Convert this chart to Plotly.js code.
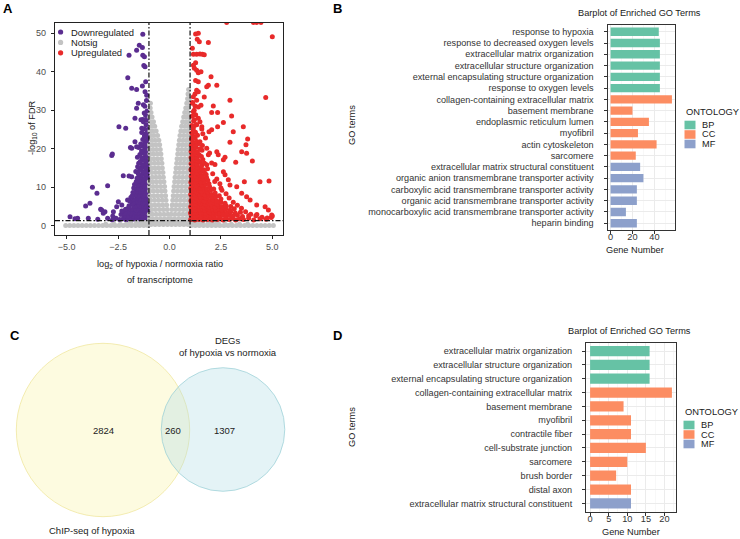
<!DOCTYPE html>
<html><head><meta charset="utf-8">
<script src="https://cdn.plot.ly/plotly-3.0.1.min.js"></script>
<style>html,body{margin:0;padding:0;background:#fff}#chart{width:740px;height:539px}</style>
</head><body><div id="chart"></div>
<script>
// ---------------- DATA ----------------
// Panel A: volcano plot points [log2 ratio, -log10 FDR]
const downregulated = [
[-1.04,1.6],[-1.13,1.9],[-1.22,1.5],[-1.31,1.8],[-1.4,1.6],[-1.5,2.0],[-1.61,1.5],[-1.72,1.8],[-1.84,1.6],[-1.97,1.9],[-2.1,1.5],[-2.25,1.8],[-2.42,1.6],[-2.6,1.9],[-2.78,1.5],
[-1.07,2.6],[-1.17,2.4],[-1.27,2.7],[-1.37,2.5],[-1.47,2.8],[-1.58,2.4],[-1.69,2.7],[-1.8,2.5],[-1.93,2.8],[-2.05,2.4],[-2.2,2.6],[-2.36,2.9],
[-1.03,3.4],[-1.12,3.2],[-1.22,3.5],[-1.33,3.3],[-1.44,3.6],[-1.55,3.2],[-1.66,3.4],[-1.78,3.7],[-1.9,3.3],[-2.03,3.5],[-2.17,3.2],[-2.32,3.8],
[-1.08,4.2],[-1.18,4.4],[-1.28,4.1],[-1.39,4.3],[-1.5,4.5],[-1.61,4.1],[-1.73,4.4],[-1.86,4.2],[-2.0,4.6],[-2.14,4.3],
[-1.04,5.1],[-1.14,5.3],[-1.24,5.0],[-1.35,5.4],[-1.46,5.1],[-1.58,5.3],[-1.7,5.0],[-1.83,5.5],[-1.97,5.2],
[-1.09,6.0],[-1.19,6.2],[-1.3,5.9],[-1.41,6.3],[-1.53,6.0],[-1.65,6.2],[-1.79,5.9],[-1.93,6.4],
[-1.03,6.9],[-1.13,7.1],[-1.24,6.8],[-1.35,7.2],[-1.47,6.9],[-1.6,7.1],[-1.74,6.8],[-1.88,7.3],
[-1.08,7.8],[-1.18,8.0],[-1.29,7.7],[-1.41,8.1],[-1.53,7.8],[-1.67,8.0],[-1.82,7.7],
[-1.04,8.7],[-1.14,8.9],[-1.25,8.6],[-1.37,9.0],[-1.49,8.7],[-1.63,8.9],[-1.78,8.6],
[-1.09,9.6],[-1.2,9.8],[-1.32,9.5],[-1.44,9.9],[-1.58,9.6],[-1.74,9.8],
[-1.04,10.5],[-1.15,10.7],[-1.27,10.4],[-1.4,10.8],[-1.54,10.5],[-1.7,10.7],
[-1.09,11.4],[-1.2,11.6],[-1.33,11.3],[-1.47,11.7],[-1.62,11.4],
[-1.04,12.3],[-1.15,12.5],[-1.28,12.2],[-1.42,12.6],[-1.58,12.3],
[-1.1,13.2],[-1.22,13.4],[-1.36,13.1],[-1.52,13.5],
[-1.04,14.1],[-1.16,14.3],[-1.3,14.0],[-1.46,14.4],[-1.64,14.1],
[-1.1,15.0],[-1.23,15.2],[-1.38,14.9],[-1.55,15.3],
[-1.05,15.9],[-1.17,16.1],[-1.32,15.8],[-1.5,16.2],
[-1.11,16.8],[-1.25,17.0],[-1.42,16.7],
[-1.05,17.7],[-1.18,17.9],[-1.34,17.6],[-1.56,17.8],
[-1.11,18.6],[-1.26,18.8],[-1.44,18.5],
[-1.05,19.5],[-1.19,19.7],[-1.36,19.4],
[-1.12,20.4],[-1.28,20.6],[-1.5,20.3],
[-1.06,21.3],[-1.21,21.5],[-1.4,21.2],
[-1.12,22.2],[-1.3,22.4],[-1.06,23.1],[-1.22,23.3],[-1.13,24.0],[-1.35,24.2],[-1.07,25.0],[-1.24,25.2],
[-1.14,26.2],[-1.08,27.4],[-1.3,27.6],[-1.16,28.6],[-1.09,29.8],[-1.2,31.0],[-1.12,32.5],
[-1.30,49.7],[-1.47,46.9],[-1.32,46.3],[-1.60,45.6],[-1.97,44.3],[-1.30,44.3],[-1.22,43.9],[-1.19,41.3],[-1.25,41.6],
[-2.03,38.4],[-1.16,37.4],[-1.84,35.7],[-1.60,35.4],[-1.32,36.3],[-1.19,34.8],[-1.11,33.9],[-1.52,31.8],[-1.27,31.4],
[-1.60,30.5],[-1.23,29.3],[-1.68,27.9],[-1.39,27.5],[-1.27,27.0],[-1.11,27.5],[-2.46,25.7],[-2.13,25.3],[-1.35,25.3],
[-1.68,21.8],[-1.60,20.5],[-1.84,20.1],[-1.9,20.3],[-2.81,18.2],[-2.78,18.6],[-2.25,13.0],[-1.84,12.7],[-1.97,12.9],
[-3.75,10.0],[-3.01,10.4],[-3.53,8.4],[-3.87,5.8],[-4.08,5.1],[-3.30,4.1],[-3.14,3.6],[-3.22,3.2],
[-2.49,6.2],[-2.32,5.4],[-2.57,4.9],[-2.73,3.6],[-2.04,6.7],[-4.84,2.3],[-4.6,1.8],[-4.47,1.9],[-3.95,1.9],[-3.49,1.7],[-3.01,1.9],[-2.76,2.5],[-3.35,4.3]
];
const notsig = [
[-5.05,0.05],[-4.85,0.05],[-4.65,0.05],[-4.45,0.05],[-4.25,0.05],[-4.05,0.05],[-3.85,0.05],[-3.65,0.05],[-3.45,0.05],[-3.25,0.05],[-3.05,0.05],
[-2.85,0.05],[-2.65,0.05],[-2.45,0.05],[-2.25,0.05],[-2.05,0.05],[-1.85,0.05],[-1.65,0.05],[-1.45,0.05],[-1.25,0.05],[-1.05,0.05],
[1.05,0.05],[1.25,0.05],[1.45,0.05],[1.65,0.05],[1.85,0.05],[2.05,0.05],[2.25,0.05],[2.45,0.05],[2.65,0.05],[2.85,0.05],[3.05,0.05],
[3.25,0.05],[3.45,0.05],[3.65,0.05],[3.85,0.05],[4.05,0.05],[4.25,0.05],[4.45,0.05],[4.65,0.05],[4.85,0.05],[5.05,0.05],
[-3.1,0.4],[-2.7,0.4],[-2.4,0.4],[-2.1,0.4],[-1.85,0.4],[-1.6,0.4],[-1.4,0.4],[-1.2,0.4],[-1.05,0.4],
[1.05,0.4],[1.2,0.4],[1.4,0.4],[1.6,0.4],[1.85,0.4],[2.1,0.4],[2.4,0.4],[2.7,0.4],[3.0,0.4],[3.4,0.4],[3.8,0.4],
[-1.9,0.8],[-1.6,0.8],[-1.35,0.8],[-1.15,0.8],[1.15,0.8],[1.35,0.8],[1.6,0.8],[1.9,0.8],[2.3,0.8],
[-0.9,0.3],[-0.7,0.3],[-0.5,0.3],[-0.3,0.3],[-0.1,0.3],[0.1,0.3],[0.3,0.3],[0.5,0.3],[0.7,0.3],[0.9,0.3],
[-0.02,0.9],[-0.2,0.9],[-0.4,0.9],[-0.6,0.9],[-0.8,0.9],[-0.98,0.9],[0.02,0.9],[0.2,0.9],[0.4,0.9],[0.6,0.9],[0.8,0.9],[0.98,0.9],
[-0.05,1.8],[-0.24,1.8],[-0.44,1.8],[-0.63,1.8],[-0.82,1.8],[-0.97,1.8],
[-0.08,3.0],[-0.27,3.0],[-0.46,3.0],[-0.65,3.0],[-0.84,3.0],[-0.98,3.0],
[-0.11,4.2],[-0.3,4.2],[-0.49,4.2],[-0.68,4.2],[-0.86,4.2],
[-0.14,5.4],[-0.33,5.4],[-0.52,5.4],[-0.71,5.4],[-0.9,5.4],
[-0.17,6.6],[-0.35,6.6],[-0.54,6.6],[-0.73,6.6],[-0.92,6.6],
[-0.19,7.8],[-0.38,7.8],[-0.57,7.8],[-0.76,7.8],[-0.95,7.8],
[-0.22,9.0],[-0.4,9.0],[-0.59,9.0],[-0.78,9.0],[-0.96,9.0],
[-0.24,10.2],[-0.43,10.2],[-0.62,10.2],[-0.8,10.2],[-0.97,10.2],
[-0.27,11.4],[-0.45,11.4],[-0.64,11.4],[-0.82,11.4],[-0.98,11.4],
[-0.3,12.6],[-0.48,12.6],[-0.66,12.6],[-0.84,12.6],
[-0.32,13.8],[-0.5,13.8],[-0.68,13.8],[-0.86,13.8],
[-0.35,15.0],[-0.53,15.0],[-0.71,15.0],[-0.89,15.0],
[-0.37,16.2],[-0.55,16.2],[-0.73,16.2],[-0.91,16.2],
[-0.4,17.4],[-0.58,17.4],[-0.76,17.4],[-0.93,17.4],
[-0.42,18.6],[-0.6,18.6],[-0.78,18.6],[-0.95,18.6],
[-0.45,19.8],[-0.63,19.8],[-0.8,19.8],[-0.96,19.8],
[-0.48,21.0],[-0.66,21.0],[-0.83,21.0],[-0.97,21.0],
[-0.52,22.2],[-0.7,22.2],[-0.86,22.2],
[-0.58,23.4],[-0.76,23.4],[-0.9,23.4],
[-0.65,24.6],[-0.82,24.6],[-0.95,24.6],
[-0.72,25.8],[-0.88,25.8],[-0.78,27.0],[-0.92,27.0],[-0.85,28.2],[-0.96,28.2],[-0.9,29.4],[-0.94,30.6],[-0.93,31.8],
[0.05,1.8],[0.24,1.8],[0.44,1.8],[0.63,1.8],[0.82,1.8],[0.97,1.8],
[0.08,3.0],[0.27,3.0],[0.46,3.0],[0.65,3.0],[0.84,3.0],[0.98,3.0],
[0.11,4.2],[0.3,4.2],[0.49,4.2],[0.68,4.2],[0.86,4.2],
[0.13,5.4],[0.32,5.4],[0.51,5.4],[0.7,5.4],[0.89,5.4],
[0.16,6.6],[0.34,6.6],[0.53,6.6],[0.72,6.6],[0.91,6.6],
[0.18,7.8],[0.37,7.8],[0.56,7.8],[0.75,7.8],[0.94,7.8],
[0.2,9.0],[0.39,9.0],[0.58,9.0],[0.77,9.0],[0.95,9.0],
[0.22,10.2],[0.41,10.2],[0.6,10.2],[0.79,10.2],[0.97,10.2],
[0.25,11.4],[0.43,11.4],[0.62,11.4],[0.81,11.4],[0.98,11.4],
[0.27,12.6],[0.46,12.6],[0.64,12.6],[0.83,12.6],
[0.3,13.8],[0.48,13.8],[0.66,13.8],[0.85,13.8],
[0.32,15.0],[0.5,15.0],[0.68,15.0],[0.87,15.0],
[0.35,16.2],[0.53,16.2],[0.71,16.2],[0.89,16.2],
[0.37,17.4],[0.55,17.4],[0.73,17.4],[0.91,17.4],
[0.4,18.6],[0.58,18.6],[0.76,18.6],[0.93,18.6],
[0.42,19.8],[0.6,19.8],[0.78,19.8],[0.95,19.8],
[0.45,21.0],[0.63,21.0],[0.8,21.0],[0.96,21.0],
[0.48,22.2],[0.66,22.2],[0.83,22.2],[0.97,22.2],
[0.51,23.4],[0.69,23.4],[0.86,23.4],
[0.55,24.6],[0.72,24.6],[0.88,24.6],
[0.59,25.8],[0.76,25.8],[0.91,25.8],
[0.64,27.0],[0.8,27.0],[0.94,27.0],
[0.69,28.2],[0.84,28.2],[0.96,28.2],
[0.74,29.4],[0.88,29.4],[0.79,30.6],[0.91,30.6],[0.84,31.8],[0.94,31.8],[0.88,33.0],[0.96,33.0],[0.9,34.2],[0.93,35.4]
];
const upregulated = [
[1.03,1.6],[1.13,1.9],[1.23,1.5],[1.33,1.8],[1.43,1.6],[1.53,2.0],[1.63,1.5],[1.74,1.8],[1.85,1.6],[1.96,1.9],[2.08,1.5],[2.2,1.8],[2.33,1.6],
[2.46,1.9],[2.6,1.5],[2.74,1.8],[2.9,1.6],[3.06,1.9],[3.22,1.5],[3.4,1.8],[3.6,1.6],[3.85,1.9],[4.1,1.5],[4.4,1.8],[4.7,1.7],[4.95,2.1],
[1.06,2.5],[1.16,2.7],[1.26,2.4],[1.36,2.6],[1.46,2.8],[1.57,2.4],[1.68,2.7],[1.79,2.5],[1.91,2.8],[2.03,2.4],[2.16,2.6],[2.29,2.9],
[2.43,2.5],[2.58,2.7],[2.73,2.4],[2.9,2.8],[3.08,2.5],[3.3,2.7],[3.55,2.4],[3.85,2.6],[4.25,2.9],
[1.02,3.3],[1.12,3.5],[1.22,3.2],[1.32,3.4],[1.43,3.6],[1.54,3.2],[1.65,3.5],[1.77,3.3],[1.89,3.6],[2.02,3.2],[2.15,3.4],[2.29,3.7],
[2.44,3.3],[2.6,3.5],[2.78,3.2],[2.98,3.6],[3.2,3.3],[3.45,3.5],
[1.07,4.1],[1.17,4.3],[1.27,4.0],[1.38,4.4],[1.49,4.1],[1.6,4.3],[1.72,4.0],[1.84,4.4],[1.97,4.1],[2.1,4.3],[2.24,4.0],[2.39,4.4],
[2.55,4.1],[2.73,4.3],[2.93,4.0],[3.15,4.4],
[1.03,4.9],[1.13,5.1],[1.23,4.8],[1.34,5.2],[1.45,4.9],[1.56,5.1],[1.68,4.8],[1.8,5.2],[1.93,4.9],[2.07,5.1],[2.22,4.8],[2.38,5.2],
[2.56,4.9],[2.76,5.1],[2.98,5.0],
[1.08,5.7],[1.18,5.9],[1.28,5.6],[1.39,6.0],[1.5,5.7],[1.62,5.9],[1.74,5.6],[1.87,6.0],[2.01,5.7],[2.16,5.9],[2.32,5.6],[2.5,6.0],[2.7,5.8],
[1.04,6.5],[1.14,6.7],[1.24,6.4],[1.35,6.8],[1.46,6.5],[1.58,6.7],[1.7,6.4],[1.83,6.8],[1.97,6.5],[2.12,6.7],[2.3,6.4],[2.5,6.9],
[1.09,7.3],[1.19,7.5],[1.3,7.2],[1.41,7.6],[1.53,7.3],[1.65,7.5],[1.78,7.2],[1.92,7.6],[2.08,7.3],[2.25,7.5],[2.42,7.8],
[1.03,8.1],[1.14,8.3],[1.25,8.0],[1.36,8.4],[1.48,8.1],[1.6,8.3],[1.73,8.0],[1.88,8.4],[2.05,8.1],[2.22,8.5],
[1.08,8.9],[1.19,9.1],[1.3,8.8],[1.42,9.2],[1.55,8.9],[1.69,9.1],[1.84,8.8],[2.0,9.2],[2.15,9.5],
[1.04,9.7],[1.15,9.9],[1.26,9.6],[1.38,10.0],[1.51,9.7],[1.65,9.9],[1.8,9.6],[1.95,10.1],
[1.09,10.5],[1.2,10.7],[1.32,10.4],[1.45,10.8],[1.59,10.5],[1.75,10.7],[1.92,10.9],
[1.04,11.3],[1.15,11.5],[1.27,11.2],[1.4,11.6],[1.54,11.3],[1.7,11.5],[1.86,11.8],
[1.1,12.1],[1.21,12.3],[1.34,12.0],[1.48,12.4],[1.64,12.1],[1.8,12.5],
[1.05,12.9],[1.16,13.1],[1.29,12.8],[1.43,13.2],[1.6,12.9],[1.78,13.3],
[1.1,13.7],[1.22,13.9],[1.36,13.6],[1.52,14.0],[1.7,13.8],
[1.04,14.5],[1.16,14.7],[1.3,14.4],[1.46,14.8],[1.65,14.5],[1.85,14.8],
[1.1,15.3],[1.23,15.5],[1.38,15.2],[1.56,15.6],
[1.05,16.1],[1.17,16.3],[1.32,16.0],[1.5,16.4],[1.7,16.2],
[1.11,16.9],[1.25,17.1],[1.42,16.8],[1.62,17.2],
[1.05,17.7],[1.18,17.9],[1.34,17.6],[1.55,18.0],
[1.11,18.5],[1.26,18.7],[1.44,18.4],
[1.05,19.3],[1.19,19.5],[1.36,19.2],[1.58,19.6],
[1.12,20.1],[1.28,20.3],[1.48,20.0],
[1.06,20.9],[1.21,21.1],[1.4,21.3],[1.13,21.7],[1.32,21.9],[1.07,22.5],[1.24,22.7],[1.14,23.3],[1.36,23.5],[1.08,24.1],[1.26,24.3],
[1.15,25.0],[1.09,26.0],[1.3,26.2],[1.17,27.2],[1.1,28.4],[1.2,30.0],[1.12,32.0],
[2.78,52.8],[4.08,52.8],[4.24,52.8],[4.45,52.8],[5.0,49.1],[1.27,49.8],[1.40,50.0],[1.35,48.4],[1.45,47.8],[1.89,47.6],[1.11,46.1],
[1.16,44.5],[1.32,44.5],[1.48,44.6],[1.60,44.5],[1.69,44.4],[1.27,42.3],[1.16,41.7],[1.21,40.9],[1.32,40.4],[1.40,39.7],[1.53,40.0],
[2.02,38.7],[1.27,37.7],[1.40,37.4],[1.89,36.5],[1.81,36.1],[2.30,36.5],[1.32,35.2],[1.40,34.8],[1.24,34.2],[1.16,33.5],[1.32,32.6],
[1.69,33.4],[2.94,32.6],[4.68,33.3],[1.11,31.8],[1.24,31.1],[1.40,30.8],[1.53,31.3],[2.13,31.1],[2.05,29.4],[2.34,29.4],[3.02,28.5],
[1.16,29.6],[1.27,28.8],[1.40,27.9],[1.21,27.5],[1.48,27.0],[1.32,26.2],[1.57,25.7],[1.16,25.6],[2.62,26.8],[2.34,25.7],[3.59,25.7],
[1.57,25.1],[1.92,24.4],[2.05,24.9],[3.10,24.4],[3.80,22.5],[3.72,21.0],[3.51,19.2],[2.94,21.7],[4.03,16.8],[3.22,16.5],[2.30,19.2],
[2.37,18.4],[2.70,17.8],[2.62,17.1],[4.84,11.6],[3.64,11.4],[2.62,14.0],[2.70,13.2],[2.86,11.9],[2.94,10.6],[3.27,10.1],[3.51,8.4],
[3.75,7.5],[3.92,6.7],[4.24,5.4],[4.65,4.9],[4.81,4.1],[4.97,2.8],[1.81,20.1],[1.89,18.4],[2.21,15.9],[1.81,15.8],[1.48,21.8],
[1.6,20.8],[2.1,13.5],[2.3,12.1],[2.45,10.9],[2.55,9.2],[2.75,8.3],[2.9,7.2],[3.1,6.1],[3.3,5.3],[3.5,4.5],[3.7,3.6],[3.95,3.0],
[4.2,2.6],[4.5,2.2],[4.75,2.0],[5.0,2.5],[2.05,16.3],[1.95,18.9],[1.75,22.8],[1.62,23.9],[2.2,11.5],[2.5,9.8],[4.4,11.4],[3.75,18.8]
];
const volcanoGroups = ['Downregulated', 'Notsig', 'Upregulated'];
const log2FCcut = [-1, 1];
const fdrCut = 1.3;

// Panel B: enriched GO terms (hypoxia DEGs)
const goB_terms = ['response to hypoxia','response to decreased oxygen levels','extracellular matrix organization',
 'extracellular structure organization','external encapsulating structure organization','response to oxygen levels',
 'collagen-containing extracellular matrix','basement membrane','endoplasmic reticulum lumen','myofibril','actin cytoskeleton','sarcomere',
 'extracellular matrix structural constituent','organic anion transmembrane transporter activity','carboxylic acid transmembrane transporter activity',
 'organic acid transmembrane transporter activity','monocarboxylic acid transmembrane transporter activity','heparin binding'];
const goB_counts = [44,45,45,45,45,45, 56,20,35,25,42,23, 27,30,24,24,14,24];
const goB_ontology = ['BP','BP','BP','BP','BP','BP','CC','CC','CC','CC','CC','CC','MF','MF','MF','MF','MF','MF'];

// Panel D: enriched GO terms (overlap genes)
const goD_terms = ['extracellular matrix organization','extracellular structure organization','external encapsulating structure organization',
 'collagen-containing extracellular matrix','basement membrane','myofibril','contractile fiber','cell-substrate junction','sarcomere',
 'brush border','distal axon','extracellular matrix structural constituent'];
const goD_counts = [16,16,16, 22,9,11,11,15,10,7,11, 11];
const goD_ontology = ['BP','BP','BP','CC','CC','CC','CC','CC','CC','CC','CC','MF'];
const ontologies = ['BP','CC','MF'];

// Panel C: Venn diagram
const vennSets = ['ChIP-seq of hypoxia', 'DEGs<br>of hypoxia vs normoxia'];
const vennCounts = [2824, 260, 1307]; // only ChIP, overlap, only DEGs

// ---------------- LAYOUT HELPERS ----------------
const W = 740, H = 539;
const FONT = 'Liberation Sans, Arial, Helvetica, sans-serif';
const fx = p => p / W;
const fy = p => 1 - p / H;
const grpColor = {Downregulated:'#5B2D90', Notsig:'#C3C3C3', Upregulated:'#E82A2A'};
const ontColor = {BP:'#66C2A5', CC:'#FC8D62', MF:'#8DA0CB'};

const traces = [];
const groupData = {Downregulated: downregulated, Notsig: notsig, Upregulated: upregulated};
volcanoGroups.forEach(g => {
  traces.push({type:'scatter', mode:'markers', name:g, xaxis:'x', yaxis:'y',
    x: groupData[g].map(p => p[0]), y: groupData[g].map(p => p[1]),
    marker:{color:grpColor[g], size:5, line:{width:0}}, cliponaxis:true, hoverinfo:'skip'});
});

function addBars(terms, counts, onts, xa, ya) {
  ontologies.forEach(o => {
    const idx = terms.map((t,i)=>i).filter(i => onts[i] === o);
    if (!idx.length) return;
    traces.push({type:'bar', orientation:'h', xaxis:xa, yaxis:ya, name:o,
      y: idx.map(i => terms[i]), x: idx.map(i => counts[i]), width:0.74,
      marker:{color:ontColor[o], line:{width:0}}, hoverinfo:'skip'});
  });
}
addBars(goB_terms, goB_counts, goB_ontology, 'x2', 'y2');
addBars(goD_terms, goD_counts, goD_ontology, 'x3', 'y3');

const tickFont = {family:FONT, size:9, color:'#4D4D4D'};
const barAxisX = (dom, rng, dt, anchor) => ({domain:dom, range:rng, dtick:dt, tick0:0, anchor:anchor,
  showline:true, mirror:true, linecolor:'#333', linewidth:1, ticks:'outside', ticklen:3, tickcolor:'#333',
  showgrid:true, gridcolor:'#EBEBEB', gridwidth:1, zeroline:false, tickfont:{family:FONT, size:9.2, color:'#333'}, ticklabelstandoff:-5,
  minor:{dtick:dt/2, showgrid:true, gridcolor:'#F3F3F3', gridwidth:0.6, ticklen:0}});
const barAxisY = (dom, terms, anchor) => ({domain:dom, type:'category', categoryorder:'array',
  categoryarray: terms.slice().reverse(), range:[-0.6, terms.length - 0.4], anchor:anchor,
  showline:true, mirror:true, linecolor:'#333', linewidth:1, ticks:'outside', ticklen:3, tickcolor:'#333',
  showgrid:true, gridcolor:'#EBEBEB', gridwidth:1, zeroline:false, ticklabelstandoff:8,
  tickfont:{family:FONT, size:9.1, color:'#333'}});

const layout = {
  width:W, height:H, margin:{l:0,r:0,t:0,b:0}, paper_bgcolor:'#fff', plot_bgcolor:'#fff',
  showlegend:false, font:{family:FONT},
  xaxis:{domain:[fx(55), fx(283)], range:[-5.57, 5.52], tick0:0, dtick:2.5, tickformat:'.1f', anchor:'y',
    showline:true, mirror:true, linecolor:'#222', linewidth:1.2, ticks:'outside', ticklen:3, tickcolor:'#222',
    showgrid:false, zeroline:false, tickfont:tickFont},
  yaxis:{domain:[fy(235), fy(23)], range:[-2.42, 52.65], tick0:0, dtick:10, anchor:'x',
    showline:true, mirror:true, linecolor:'#222', linewidth:1.2, ticks:'outside', ticklen:3, tickcolor:'#222',
    showgrid:false, zeroline:false, tickfont:tickFont, ticklabelstandoff:3},
  xaxis2: barAxisX([fx(607.5), fx(675)], [-2.8, 58.8], 20, 'y2'),
  yaxis2: barAxisY([fy(230), fy(25)], goB_terms, 'x2'),
  xaxis3: barAxisX([fx(586), fx(676)], [-1.1, 23.1], 5, 'y3'),
  yaxis3: barAxisY([fy(511.7), fy(342.7)], goD_terms, 'x3'),
  shapes:[], annotations:[]
};

// threshold lines in volcano
const dashStyle = '5px,2px,1.5px,2px';
log2FCcut.forEach(c => layout.shapes.push({type:'line', xref:'x', yref:'y domain', x0:c, x1:c, y0:0, y1:1,
  line:{color:'#111', width:1.2, dash:dashStyle}}));
layout.shapes.push({type:'line', xref:'x domain', yref:'y', x0:0, x1:1, y0:fdrCut, y1:fdrCut,
  line:{color:'#111', width:1.2, dash:dashStyle}});

// Venn circles (radius proportional to sqrt of set size)
const setA = vennCounts[0] + vennCounts[1], setB = vennCounts[1] + vennCounts[2];
const kR = 1.561;
const rA = kR * Math.sqrt(setA), rB = kR * Math.sqrt(setB);
const cA = [103, 430], cB = [223, 429.5];
layout.shapes.push({type:'circle', xref:'paper', yref:'paper', x0:fx(cA[0]-rA), x1:fx(cA[0]+rA), y0:fy(cA[1]+rA), y1:fy(cA[1]-rA),
  fillcolor:'rgba(252,248,198,0.55)', line:{color:'rgba(238,228,150,0.7)', width:1}, layer:'below'});
layout.shapes.push({type:'circle', xref:'paper', yref:'paper', x0:fx(cB[0]-rB), x1:fx(cB[0]+rB), y0:fy(cB[1]+rB), y1:fy(cB[1]-rB),
  fillcolor:'rgba(178,222,228,0.35)', line:{color:'rgba(150,205,212,0.7)', width:1}, layer:'below'});

const ann = (x, y, text, opt={}) => layout.annotations.push(Object.assign({xref:'paper', yref:'paper', x:fx(x), y:fy(y), text:text,
  showarrow:false, xanchor:'center', yanchor:'middle', font:{family:FONT, size:9.2, color:'#1a1a1a'}}, opt));

// Venn labels
ann(103, 430.5, String(vennCounts[0]), {font:{family:FONT, size:9.5, color:'#222'}});
ann(173, 430.5, String(vennCounts[1]), {font:{family:FONT, size:9.5, color:'#222'}});
ann(224.5, 430.5, String(vennCounts[2]), {font:{family:FONT, size:9.5, color:'#222'}});
ann(92, 530, vennSets[0], {font:{family:FONT, size:9.5, color:'#222'}});
ann(228, 346, vennSets[1], {font:{family:FONT, size:9.5, color:'#222'}});

// Panel letters
[['A',8,8],['B',337,8],['C',15,335],['D',337,335]].forEach(([t,x,y]) =>
  ann(x, y, '<b>'+t+'</b>', {font:{family:FONT, size:13, color:'#000'}}));

// Volcano titles + legend
ann(32, 128, '-log<sub>10</sub> of FDR', {textangle:-90, font:{family:FONT, size:9.2, color:'#1a1a1a'}});
ann(160, 264.5, 'log<sub>2</sub> of hypoxia / normoxia ratio');
ann(160, 280, 'of transcriptome');
volcanoGroups.forEach((g, i) => {
  const cy = 32 + i * 10.4;
  layout.shapes.push({type:'circle', xref:'paper', yref:'paper', x0:fx(58), x1:fx(63.2), y0:fy(cy+2.6), y1:fy(cy-2.6),
    fillcolor:grpColor[g], line:{width:0}});
  ann(68.5, cy, g, {xanchor:'left', font:{family:FONT, size:9.4, color:'#1a1a1a'}});
});

// Bar panel titles, axis titles, legends
function barDecor(titleY, titleX, gxTitle, gyTitle, xtY, xtX, legTitleY, legX) {
  ann(titleX, titleY, 'Barplot of Enriched GO Terms', {font:{family:FONT, size:9.2, color:'#1a1a1a'}});
  ann(gxTitle, gyTitle, 'GO terms', {textangle:-90});
  ann(xtX, xtY, 'Gene Number');
  ann(legX, legTitleY, 'ONTOLOGY', {xanchor:'left', font:{family:FONT, size:9.4, color:'#1a1a1a'}});
  ontologies.forEach((o, i) => {
    const cy = legTitleY + 13.5 + i * 9.5;
    layout.shapes.push({type:'rect', xref:'paper', yref:'paper', x0:fx(legX+0.5), x1:fx(legX+11.5), y0:fy(cy+4.3), y1:fy(cy-4.3),
      fillcolor:ontColor[o], line:{width:0}});
    ann(legX + 15.5, cy, o, {xanchor:'left', font:{family:FONT, size:9.2, color:'#1a1a1a'}});
  });
}
barDecor(13, 639, 352, 125, 250, 635, 111.5, 684);
barDecor(330.5, 629, 352, 427, 532, 631, 411.5, 683);

Plotly.newPlot('chart', traces, layout, {staticPlot:true, displayModeBar:false});
</script>
</body></html>
